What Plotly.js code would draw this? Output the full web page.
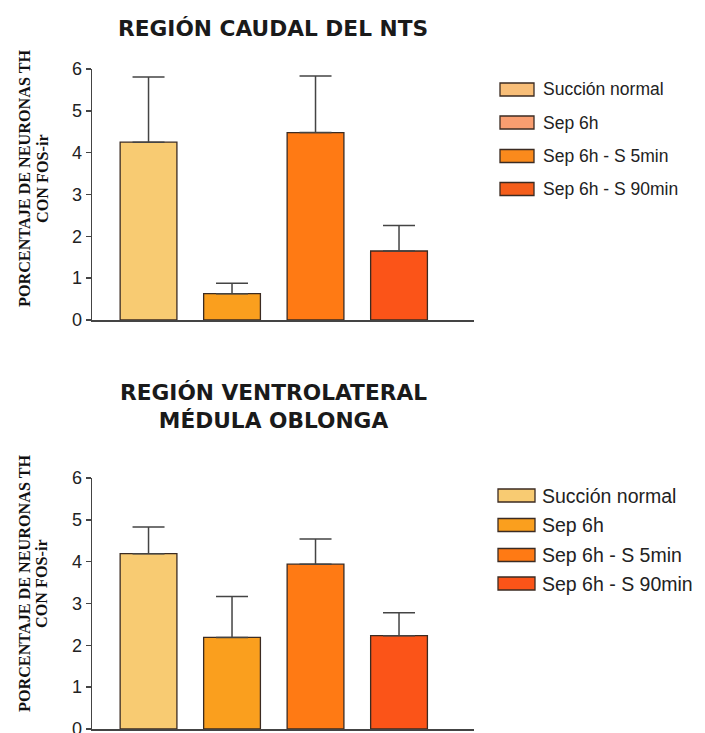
<!DOCTYPE html>
<html>
<head>
<meta charset="utf-8">
<script src="https://cdn.plot.ly/plotly-3.0.1.min.js"></script>
<style>html,body{margin:0;padding:0;background:#fff;}#chart{width:705px;height:733px;}</style>
</head>
<body>
<div id="chart"></div>
<script>
// ---- data ----
const categories = ['Succión normal', 'Sep 6h', 'Sep 6h - S 5min', 'Sep 6h - S 90min'];
const ntsValues = [4.25, 0.63, 4.48, 1.65];
const ntsErrors = [1.56, 0.25, 1.35, 0.61];
const vlmValues = [4.19, 2.19, 3.94, 2.23];
const vlmErrors = [0.64, 0.98, 0.60, 0.55];
const yTickVals = [0, 1, 2, 3, 4, 5, 6];
const yTickText = ['0', '1', '2', '3', '4', '5', '6'];
const titleTop = 'REGIÓN CAUDAL DEL NTS';
const titleBottom = 'REGIÓN VENTROLATERAL<br>MÉDULA OBLONGA';
const yTitleLines = ['PORCENTAJE DE NEURONAS TH', 'CON FOS-ir'];

// ---- style ----
const barColors = ['#F8CB72', '#FA9F1E', '#FF7A14', '#FB5418'];
const legendColorsTop = ['#F8BE78', '#F99E70', '#FA8A1C', '#F55E1B'];
const legendColorsBottom = ['#F8CB72', '#FA9F1E', '#FF7A14', '#FB5418'];

const W = 705, H = 733;
const px = x => x / W;
const py = y => (H - y) / H;

function barTrace(vals, errs, xa, ya) {
  return {
    type: 'bar', x: categories, y: vals, xaxis: xa, yaxis: ya,
    width: 0.68,
    marker: {color: barColors, line: {color: '#3b2b22', width: 1.3}},
    error_y: {type: 'data', symmetric: false, array: errs, arrayminus: errs.map(() => 0),
              color: '#444', thickness: 1.5, width: 16},
    showlegend: false, hoverinfo: 'skip'
  };
}

const data = [
  barTrace(ntsValues, ntsErrors, 'x', 'y'),
  barTrace(vlmValues, vlmErrors, 'x2', 'y2')
];

function xAxis(anchor) {
  return {domain: [px(92), px(474)], anchor: anchor, type: 'category',
          range: [-0.677, 3.898], showticklabels: false, ticks: '',
          showline: true, linecolor: '#444', linewidth: 1.5, showgrid: false,
          zeroline: false, fixedrange: true};
}
function yAxis(anchor, top, bottom) {
  return {domain: [py(bottom), py(top)], anchor: anchor, range: [0, 6],
          tickvals: yTickVals, ticktext: yTickText, ticks: 'outside', ticklen: 5,
          tickwidth: 1.5, tickcolor: '#444', showline: true, linecolor: '#444',
          linewidth: 1.5, showgrid: false, zeroline: false, ticklabeloverflow: 'allow',
          tickfont: {family: 'Liberation Sans, Arial, sans-serif', size: 18, color: '#222'}};
}

const shapes = [];
const annotations = [];

// titles
const titleFont = {family: 'DejaVu Sans, Liberation Sans, Arial, sans-serif', size: 21.7, color: '#1a1a1a'};
annotations.push({text: '<b>' + titleTop + '</b>', xref: 'paper', yref: 'paper',
  x: px(273), y: py(28), xanchor: 'center', yanchor: 'middle', showarrow: false,
  font: titleFont});
annotations.push({text: '<b>' + titleBottom + '</b>', xref: 'paper', yref: 'paper',
  x: px(273), y: py(406), xanchor: 'center', yanchor: 'middle', showarrow: false,
  font: titleFont});

// y-axis titles (two lines each)
[[179, 25, 43], [584, 25, 42]].forEach(([cy, x1, x2]) => {
  [x1, x2].forEach((cx, i) => {
    annotations.push({text: '<b>' + yTitleLines[i] + '</b>', xref: 'paper', yref: 'paper',
      x: px(cx), y: py(cy), xanchor: 'center', yanchor: 'middle', textangle: -90,
      showarrow: false,
      font: {family: 'Liberation Serif, Times New Roman, serif', size: 16.2, color: '#111'}});
  });
});

// legends
function legend(colors, x0, x1, yCenters, h, textX, font) {
  categories.forEach((c, i) => {
    const yc = yCenters[i];
    shapes.push({type: 'rect', xref: 'paper', yref: 'paper',
      x0: px(x0), x1: px(x1), y0: py(yc + h / 2), y1: py(yc - h / 2),
      fillcolor: colors[i], line: {color: '#3b2b22', width: 1.3}});
    annotations.push({text: c, xref: 'paper', yref: 'paper', x: px(textX), y: py(yc),
      xanchor: 'left', yanchor: 'middle', showarrow: false, font: font});
  });
}
legend(legendColorsTop, 500, 534, [89.5, 122.5, 156, 189], 13, 541,
  {family: 'Liberation Sans, Arial, sans-serif', size: 17.5, color: '#222'});
legend(legendColorsBottom, 498, 535, [495.5, 525, 555, 583.5], 13, 540,
  {family: 'Liberation Sans, Arial, sans-serif', size: 19.5, color: '#222'});

const layout = {
  width: W, height: H, margin: {l: 0, r: 0, t: 0, b: 0},
  paper_bgcolor: '#fff', plot_bgcolor: 'rgba(0,0,0,0)',
  showlegend: false, bargap: 0,
  xaxis: xAxis('y'), yaxis: yAxis('x', 69, 320),
  xaxis2: xAxis('y2'), yaxis2: yAxis('x2', 478, 729),
  shapes: shapes, annotations: annotations
};

Plotly.newPlot('chart', data, layout, {staticPlot: true, displayModeBar: false});
</script>
</body>
</html>
